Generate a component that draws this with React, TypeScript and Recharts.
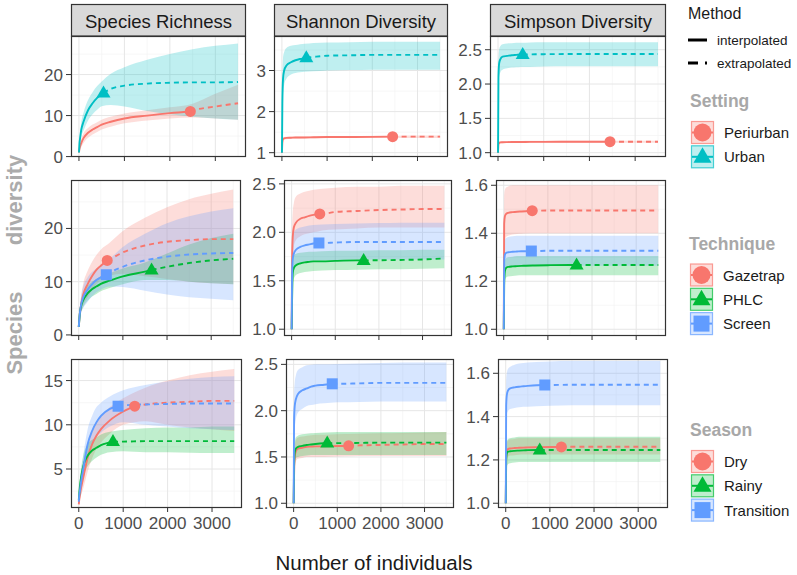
import React from "react";
import { ComposedChart, Area, Line, Scatter, XAxis, YAxis, CartesianGrid } from "recharts";

const FONT = "'Liberation Sans', Arial, Helvetica, sans-serif";
const RED = "#F8766D";
const TEAL = "#00BFC4";
const GREEN = "#00BA38";
const BLUE = "#619CFF";

// sample sizes (number of individuals) shared by every curve
const X = [1, 10, 25, 50, 100, 200, 300, 400, 500, 700, 1000, 1500, 2000, 2500, 3000, 3500];
const X_TICKS = [0, 1000, 2000, 3000];
const X_MINOR = [500, 1500, 2500, 3500];
const X_DOMAIN = [-175, 3675];

const STRIPS = ["Species Richness", "Shannon Diversity", "Simpson Diversity"];
const SETTINGS = ["Periurban", "Urban"];
const TECHNIQUES = ["Gazetrap", "PHLC", "Screen"];
const SEASONS = ["Dry", "Rainy", "Transition"];
const METHODS = ["interpolated", "extrapolated"];

// reference sample sizes (observed)
const SETTING_N = [2450, 540];
const TECHNIQUE_N = [645, 1650, 625];
const SEASON_N = [1260, 770, 885];

// ---- Setting ----
const rich_peri_est = [1, 1.8, 2.5, 3.3, 4.5, 5.8, 6.6, 7.2, 7.8, 8.5, 9.3, 10.0, 10.6, 11.2, 12.2, 13.0];
const rich_peri_lo = [1, 1.3, 1.8, 2.3, 3.3, 4.6, 5.4, 6.0, 6.6, 7.3, 8.1, 8.8, 9.3, 9.5, 9.3, 9.0];
const rich_peri_hi = [1, 2.3, 3.3, 4.3, 5.7, 7.0, 7.8, 8.4, 9.0, 9.7, 10.5, 11.3, 12.0, 12.9, 15.3, 17.5];
const rich_urban_est = [1, 3, 4.5, 6.5, 8.5, 11.3, 13.0, 14.3, 15.2, 16.5, 17.3, 17.8, 18.0, 18.1, 18.1, 18.2];
const rich_urban_lo = [1, 2.2, 3.3, 4.8, 6.3, 8.8, 10.3, 11.4, 12.3, 12.6, 12.2, 11.1, 10.3, 9.7, 9.3, 9.0];
const rich_urban_hi = [1, 3.8, 5.7, 8.2, 10.7, 13.8, 15.7, 17.2, 18.3, 20.2, 21.8, 23.6, 25.0, 26.2, 27.0, 27.6];
const RICH_SETTING_REF = [11.0, 15.5];

const shan_peri_est = [1, 1.25, 1.33, 1.35, 1.36, 1.365, 1.37, 1.37, 1.37, 1.375, 1.38, 1.38, 1.385, 1.39, 1.39, 1.39];
const shan_peri_lo = [1, 1.22, 1.3, 1.32, 1.33, 1.34, 1.345, 1.345, 1.35, 1.35, 1.355, 1.355, 1.36, 1.36, 1.36, 1.36];
const shan_peri_hi = [1, 1.28, 1.36, 1.38, 1.39, 1.39, 1.395, 1.395, 1.395, 1.4, 1.405, 1.405, 1.41, 1.415, 1.42, 1.42];
const shan_urban_est = [1, 2.2, 2.8, 3.0, 3.12, 3.2, 3.25, 3.28, 3.3, 3.33, 3.36, 3.37, 3.38, 3.38, 3.38, 3.38];
const shan_urban_lo = [1, 1.9, 2.4, 2.65, 2.8, 2.9, 2.94, 2.96, 2.97, 2.98, 3.0, 3.01, 3.02, 3.02, 3.02, 3.02];
const shan_urban_hi = [1, 2.6, 3.3, 3.45, 3.55, 3.6, 3.62, 3.64, 3.65, 3.67, 3.68, 3.69, 3.7, 3.7, 3.7, 3.7];
const SHAN_SETTING_REF = [1.39, 3.31];

const simp_peri_est = [1, 1.12, 1.14, 1.15, 1.152, 1.154, 1.155, 1.155, 1.156, 1.157, 1.158, 1.159, 1.16, 1.16, 1.16, 1.16];
const simp_peri_lo = [1, 1.1, 1.125, 1.135, 1.138, 1.14, 1.14, 1.14, 1.141, 1.142, 1.143, 1.144, 1.145, 1.145, 1.145, 1.145];
const simp_peri_hi = [1, 1.14, 1.155, 1.165, 1.166, 1.168, 1.17, 1.17, 1.171, 1.172, 1.173, 1.174, 1.175, 1.175, 1.175, 1.175];
const simp_urban_est = [1, 2.1, 2.3, 2.36, 2.4, 2.41, 2.42, 2.425, 2.43, 2.432, 2.435, 2.437, 2.438, 2.438, 2.438, 2.438];
const simp_urban_lo = [1, 1.9, 2.1, 2.17, 2.21, 2.23, 2.24, 2.245, 2.25, 2.25, 2.255, 2.26, 2.26, 2.26, 2.26, 2.26];
const simp_urban_hi = [1, 2.3, 2.5, 2.55, 2.58, 2.59, 2.595, 2.6, 2.6, 2.605, 2.61, 2.61, 2.61, 2.61, 2.61, 2.61];
const SIMP_SETTING_REF = [1.16, 2.43];

// ---- Technique ----
const rich_gaze_est = [1.5, 2.5, 4, 5.5, 7.5, 9.5, 11, 12.2, 13, 14.2, 15.5, 16.8, 17.5, 17.8, 18, 18];
const rich_gaze_lo = [1.5, 2, 3, 4, 5.5, 7, 8.3, 9.5, 10.3, 11.1, 11.5, 11, 10.5, 10, 9.7, 9.5];
const rich_gaze_hi = [1.5, 3, 5, 7, 9.5, 12, 13.7, 15, 16, 17.3, 19.5, 22, 24, 25.5, 26.5, 27.3];
const rich_phlc_est = [1.5, 2.5, 4, 5.3, 6.5, 7.8, 8.6, 9.1, 9.6, 10.2, 11, 11.9, 12.8, 13.5, 14, 14.3];
const rich_phlc_lo = [1.5, 2.1, 3.3, 4.3, 5.2, 6.4, 7.2, 7.7, 8.2, 8.8, 9.5, 10.3, 10.3, 10, 9.7, 9.5];
const rich_phlc_hi = [1.5, 2.9, 4.7, 6.3, 7.8, 9.2, 10, 10.5, 11, 11.6, 12.5, 13.6, 15.3, 17, 18.2, 19];
const rich_screen_est = [1.5, 2.6, 4, 5.5, 7, 8.5, 9.5, 10.3, 10.8, 11.7, 12.8, 14, 14.7, 15.1, 15.3, 15.4];
const rich_screen_lo = [1.5, 2.1, 3, 4, 5, 6.2, 7.2, 8, 8.5, 9.1, 9, 8.3, 7.6, 7.1, 6.8, 6.5];
const rich_screen_hi = [1.5, 3.1, 5, 7, 9, 10.8, 11.8, 12.5, 13.1, 14.3, 16.5, 19, 21, 22.3, 23.2, 23.8];
const RICH_TECH_REF = [14.0, 12.2, 11.3];

const shan_gaze_est = [1, 1.7, 1.95, 2.05, 2.1, 2.14, 2.155, 2.17, 2.18, 2.19, 2.21, 2.22, 2.23, 2.235, 2.24, 2.24];
const shan_gaze_lo = [1, 1.45, 1.7, 1.85, 1.92, 1.96, 1.98, 1.99, 2.0, 2.02, 2.03, 2.04, 2.05, 2.05, 2.05, 2.05];
const shan_gaze_hi = [1, 1.95, 2.2, 2.3, 2.37, 2.4, 2.42, 2.43, 2.44, 2.45, 2.46, 2.47, 2.47, 2.48, 2.48, 2.48];
const shan_phlc_est = [1, 1.3, 1.58, 1.63, 1.66, 1.68, 1.69, 1.695, 1.7, 1.7, 1.705, 1.71, 1.712, 1.715, 1.72, 1.73];
const shan_phlc_lo = [1, 1.2, 1.45, 1.52, 1.56, 1.58, 1.59, 1.595, 1.6, 1.605, 1.61, 1.615, 1.62, 1.62, 1.625, 1.63];
const shan_phlc_hi = [1, 1.45, 1.72, 1.76, 1.78, 1.79, 1.795, 1.8, 1.8, 1.805, 1.81, 1.81, 1.815, 1.815, 1.82, 1.82];
const shan_screen_est = [1, 1.55, 1.72, 1.78, 1.82, 1.85, 1.865, 1.875, 1.885, 1.89, 1.895, 1.9, 1.9, 1.9, 1.9, 1.9];
const shan_screen_lo = [1, 1.3, 1.5, 1.6, 1.65, 1.68, 1.7, 1.705, 1.71, 1.71, 1.715, 1.72, 1.72, 1.72, 1.72, 1.72];
const shan_screen_hi = [1, 1.8, 1.95, 2.0, 2.03, 2.05, 2.06, 2.07, 2.075, 2.08, 2.085, 2.09, 2.095, 2.1, 2.1, 2.1];
const SHAN_TECH_REF = [2.19, 1.71, 1.89];

const simp_gaze_est = [1, 1.44, 1.47, 1.48, 1.485, 1.488, 1.49, 1.491, 1.492, 1.494, 1.495, 1.495, 1.495, 1.495, 1.495, 1.495];
const simp_gaze_lo = [1, 1.33, 1.37, 1.385, 1.39, 1.395, 1.397, 1.398, 1.399, 1.4, 1.4, 1.4, 1.4, 1.4, 1.4, 1.4];
const simp_gaze_hi = [1, 1.55, 1.58, 1.59, 1.595, 1.6, 1.6, 1.6, 1.6, 1.6, 1.6, 1.6, 1.6, 1.6, 1.6, 1.6];
const simp_phlc_est = [1, 1.18, 1.24, 1.255, 1.26, 1.262, 1.263, 1.264, 1.265, 1.266, 1.267, 1.268, 1.268, 1.268, 1.268, 1.268];
const simp_phlc_lo = [1, 1.13, 1.2, 1.215, 1.22, 1.222, 1.224, 1.225, 1.225, 1.225, 1.225, 1.225, 1.225, 1.225, 1.225, 1.225];
const simp_phlc_hi = [1, 1.23, 1.285, 1.295, 1.3, 1.302, 1.305, 1.305, 1.305, 1.305, 1.305, 1.305, 1.305, 1.305, 1.305, 1.305];
const simp_screen_est = [1, 1.28, 1.31, 1.318, 1.321, 1.323, 1.324, 1.325, 1.325, 1.326, 1.327, 1.327, 1.327, 1.327, 1.327, 1.327];
const simp_screen_lo = [1, 1.22, 1.245, 1.255, 1.26, 1.262, 1.264, 1.265, 1.265, 1.265, 1.265, 1.265, 1.265, 1.265, 1.265, 1.265];
const simp_screen_hi = [1, 1.34, 1.37, 1.38, 1.385, 1.388, 1.39, 1.39, 1.39, 1.39, 1.39, 1.39, 1.39, 1.39, 1.39, 1.39];
const SIMP_TECH_REF = [1.494, 1.268, 1.326];

// ---- Season ----
const rich_dry_est = [1, 1.5, 2, 2.8, 4, 6.3, 7.8, 8.8, 9.5, 10.5, 11.5, 12.3, 12.5, 12.6, 12.7, 12.7];
const rich_dry_lo = [1, 1.2, 1.5, 2, 2.8, 4.7, 6.2, 7.3, 8, 9, 10, 10.4, 10, 9.7, 9.5, 9.3];
const rich_dry_hi = [1, 1.8, 2.6, 3.8, 5.5, 8, 9.5, 10.4, 11, 12, 13, 14.2, 15, 15.6, 16, 16.3];
const rich_rainy_est = [1.5, 2.2, 3, 4, 5.3, 6.5, 7.1, 7.4, 7.7, 8.0, 8.1, 8.15, 8.15, 8.15, 8.15, 8.15];
const rich_rainy_lo = [1.5, 1.8, 2.4, 3, 4.2, 5.3, 5.9, 6.3, 6.6, 6.9, 7, 6.9, 6.9, 6.85, 6.8, 6.8];
const rich_rainy_hi = [1.5, 2.6, 3.8, 5, 6.5, 7.8, 8.3, 8.6, 8.9, 9.2, 9.4, 9.6, 9.7, 9.7, 9.8, 9.8];
const rich_trans_est = [1.3, 2, 2.5, 3.5, 5, 7.8, 9.3, 10.3, 11, 11.8, 12.2, 12.3, 12.35, 12.4, 12.4, 12.4];
const rich_trans_lo = [1.3, 1.6, 2, 2.5, 3.7, 6, 7.5, 8.6, 9.1, 9.8, 10.3, 10, 9.8, 9.6, 9.5, 9.4];
const rich_trans_hi = [1.3, 2.4, 3.2, 4.5, 6.5, 9.5, 11, 12, 12.5, 13.2, 13.9, 14.5, 14.9, 15.2, 15.4, 15.5];
const RICH_SEASON_REF = [12.1, 8.1, 12.1];

const shan_dry_est = [1, 1.3, 1.5, 1.56, 1.59, 1.6, 1.61, 1.612, 1.614, 1.615, 1.618, 1.625, 1.63, 1.635, 1.64, 1.64];
const shan_dry_lo = [1, 1.2, 1.38, 1.45, 1.48, 1.49, 1.5, 1.5, 1.5, 1.5, 1.505, 1.51, 1.51, 1.51, 1.51, 1.51];
const shan_dry_hi = [1, 1.4, 1.62, 1.68, 1.71, 1.72, 1.73, 1.735, 1.74, 1.74, 1.745, 1.75, 1.755, 1.76, 1.765, 1.77];
const shan_rainy_est = [1, 1.4, 1.55, 1.59, 1.61, 1.62, 1.63, 1.635, 1.64, 1.648, 1.65, 1.652, 1.655, 1.655, 1.655, 1.655];
const shan_rainy_lo = [1, 1.3, 1.45, 1.49, 1.5, 1.51, 1.515, 1.52, 1.52, 1.52, 1.52, 1.52, 1.52, 1.52, 1.52, 1.52];
const shan_rainy_hi = [1, 1.5, 1.66, 1.71, 1.73, 1.745, 1.75, 1.755, 1.76, 1.765, 1.77, 1.77, 1.77, 1.77, 1.77, 1.77];
const shan_trans_est = [1, 1.9, 2.05, 2.12, 2.18, 2.22, 2.24, 2.26, 2.27, 2.28, 2.29, 2.295, 2.3, 2.3, 2.3, 2.3];
const shan_trans_lo = [1, 1.6, 1.8, 1.9, 1.98, 2.02, 2.05, 2.06, 2.07, 2.08, 2.09, 2.095, 2.1, 2.1, 2.1, 2.1];
const shan_trans_hi = [1, 2.15, 2.3, 2.38, 2.44, 2.47, 2.49, 2.495, 2.5, 2.5, 2.505, 2.51, 2.515, 2.52, 2.52, 2.52];
const SHAN_SEASON_REF = [1.62, 1.65, 2.29];

const simp_dry_est = [1, 1.2, 1.24, 1.25, 1.253, 1.255, 1.256, 1.257, 1.258, 1.259, 1.26, 1.261, 1.261, 1.261, 1.261, 1.261];
const simp_dry_lo = [1, 1.16, 1.2, 1.215, 1.22, 1.222, 1.224, 1.225, 1.225, 1.225, 1.225, 1.225, 1.225, 1.225, 1.225, 1.225];
const simp_dry_hi = [1, 1.24, 1.28, 1.29, 1.295, 1.297, 1.3, 1.3, 1.3, 1.3, 1.3, 1.3, 1.3, 1.3, 1.3, 1.3];
const simp_rainy_est = [1, 1.2, 1.23, 1.238, 1.24, 1.242, 1.243, 1.244, 1.245, 1.246, 1.246, 1.246, 1.246, 1.246, 1.246, 1.246];
const simp_rainy_lo = [1, 1.14, 1.17, 1.18, 1.185, 1.188, 1.19, 1.19, 1.19, 1.19, 1.19, 1.19, 1.19, 1.19, 1.19, 1.19];
const simp_rainy_hi = [1, 1.26, 1.285, 1.295, 1.3, 1.303, 1.307, 1.307, 1.307, 1.307, 1.307, 1.307, 1.307, 1.307, 1.307, 1.307];
const simp_trans_est = [1, 1.45, 1.5, 1.52, 1.53, 1.535, 1.538, 1.54, 1.542, 1.545, 1.546, 1.547, 1.547, 1.547, 1.547, 1.547];
const simp_trans_lo = [1, 1.36, 1.41, 1.425, 1.435, 1.44, 1.443, 1.445, 1.446, 1.448, 1.45, 1.452, 1.452, 1.452, 1.452, 1.452];
const simp_trans_hi = [1, 1.55, 1.6, 1.62, 1.63, 1.64, 1.645, 1.648, 1.65, 1.652, 1.655, 1.657, 1.657, 1.657, 1.657, 1.657];
const SIMP_SEASON_REF = [1.26, 1.246, 1.546];

type Series = { color: string; shape: string; n: number; v: number; est: number[]; lo: number[]; hi: number[] };

const mk = (color: string, shape: string, n: number, v: number, est: number[], lo: number[], hi: number[]): Series =>
  ({ color, shape, n, v, est, lo, hi });

const GROUP_STYLE = {
  setting: [[RED, "circle"], [TEAL, "triangle"]],
  technique: [[RED, "circle"], [GREEN, "triangle"], [BLUE, "square"]],
  season: [[RED, "circle"], [GREEN, "triangle"], [BLUE, "square"]],
};

const ROW_Y = [[36, 157], [180, 336], [359, 508]];
const COL_X = [
  [[71, 246], [274, 448], [490, 666]],
  [[71, 241], [284, 452], [496, 666]],
  [[71, 242], [286, 454], [498, 668]],
];
const YW = 44;
const PAD = 12;

const PANELS = [
  // row 1: Setting
  { r: 0, c: 0, dom: [-0.1, 29.4], ticks: [0, 10, 20], minor: [5, 15, 25], dec: 0,
    series: [mk(RED, "circle", SETTING_N[0], RICH_SETTING_REF[0], rich_peri_est, rich_peri_lo, rich_peri_hi),
             mk(TEAL, "triangle", SETTING_N[1], RICH_SETTING_REF[1], rich_urban_est, rich_urban_lo, rich_urban_hi)] },
  { r: 0, c: 1, dom: [0.895, 3.84], ticks: [1, 2, 3], minor: [1.5, 2.5, 3.5], dec: 0,
    series: [mk(RED, "circle", SETTING_N[0], SHAN_SETTING_REF[0], shan_peri_est, shan_peri_lo, shan_peri_hi),
             mk(TEAL, "triangle", SETTING_N[1], SHAN_SETTING_REF[1], shan_urban_est, shan_urban_lo, shan_urban_hi)] },
  { r: 0, c: 2, dom: [0.937, 2.7], ticks: [1, 1.5, 2, 2.5], minor: [1.25, 1.75, 2.25], dec: 1,
    series: [mk(RED, "circle", SETTING_N[0], SIMP_SETTING_REF[0], simp_peri_est, simp_peri_lo, simp_peri_hi),
             mk(TEAL, "triangle", SETTING_N[1], SIMP_SETTING_REF[1], simp_urban_est, simp_urban_lo, simp_urban_hi)] },
  // row 2: Technique
  { r: 1, c: 0, dom: [-0.2, 29.1], ticks: [0, 10, 20], minor: [5, 15, 25], dec: 0,
    series: [mk(RED, "circle", TECHNIQUE_N[0], RICH_TECH_REF[0], rich_gaze_est, rich_gaze_lo, rich_gaze_hi),
             mk(GREEN, "triangle", TECHNIQUE_N[1], RICH_TECH_REF[1], rich_phlc_est, rich_phlc_lo, rich_phlc_hi),
             mk(BLUE, "square", TECHNIQUE_N[2], RICH_TECH_REF[2], rich_screen_est, rich_screen_lo, rich_screen_hi)] },
  { r: 1, c: 1, dom: [0.93, 2.54], ticks: [1, 1.5, 2, 2.5], minor: [1.25, 1.75, 2.25], dec: 1,
    series: [mk(RED, "circle", TECHNIQUE_N[0], SHAN_TECH_REF[0], shan_gaze_est, shan_gaze_lo, shan_gaze_hi),
             mk(GREEN, "triangle", TECHNIQUE_N[1], SHAN_TECH_REF[1], shan_phlc_est, shan_phlc_lo, shan_phlc_hi),
             mk(BLUE, "square", TECHNIQUE_N[2], SHAN_TECH_REF[2], shan_screen_est, shan_screen_lo, shan_screen_hi)] },
  { r: 1, c: 2, dom: [0.972, 1.622], ticks: [1, 1.2, 1.4, 1.6], minor: [1.1, 1.3, 1.5], dec: 1,
    series: [mk(RED, "circle", TECHNIQUE_N[0], SIMP_TECH_REF[0], simp_gaze_est, simp_gaze_lo, simp_gaze_hi),
             mk(GREEN, "triangle", TECHNIQUE_N[1], SIMP_TECH_REF[1], simp_phlc_est, simp_phlc_lo, simp_phlc_hi),
             mk(BLUE, "square", TECHNIQUE_N[2], SIMP_TECH_REF[2], simp_screen_est, simp_screen_lo, simp_screen_hi)] },
  // row 3: Season
  { r: 2, c: 0, dom: [0.59, 17.44], ticks: [5, 10, 15], minor: [2.5, 7.5, 12.5], dec: 0,
    series: [mk(RED, "circle", SEASON_N[0], RICH_SEASON_REF[0], rich_dry_est, rich_dry_lo, rich_dry_hi),
             mk(GREEN, "triangle", SEASON_N[1], RICH_SEASON_REF[1], rich_rainy_est, rich_rainy_lo, rich_rainy_hi),
             mk(BLUE, "square", SEASON_N[2], RICH_SEASON_REF[2], rich_trans_est, rich_trans_lo, rich_trans_hi)] },
  { r: 2, c: 1, dom: [0.949, 2.558], ticks: [1, 1.5, 2, 2.5], minor: [1.25, 1.75, 2.25], dec: 1,
    series: [mk(RED, "circle", SEASON_N[0], SHAN_SEASON_REF[0], shan_dry_est, shan_dry_lo, shan_dry_hi),
             mk(GREEN, "triangle", SEASON_N[1], SHAN_SEASON_REF[1], shan_rainy_est, shan_rainy_lo, shan_rainy_hi),
             mk(BLUE, "square", SEASON_N[2], SHAN_SEASON_REF[2], shan_trans_est, shan_trans_lo, shan_trans_hi)] },
  { r: 2, c: 2, dom: [0.978, 1.666], ticks: [1, 1.2, 1.4, 1.6], minor: [1.1, 1.3, 1.5], dec: 1,
    series: [mk(RED, "circle", SEASON_N[0], SIMP_SEASON_REF[0], simp_dry_est, simp_dry_lo, simp_dry_hi),
             mk(GREEN, "triangle", SEASON_N[1], SIMP_SEASON_REF[1], simp_rainy_est, simp_rainy_lo, simp_rainy_hi),
             mk(BLUE, "square", SEASON_N[2], SIMP_SEASON_REF[2], simp_trans_est, simp_trans_lo, simp_trans_hi)] },
];

function buildRows(series: Series[]) {
  const xs = Array.from(new Set([...X, ...series.map(s => s.n)])).sort((a, b) => a - b);
  return xs.map(x => {
    const row: any = { x };
    const gi = X.indexOf(x);
    series.forEach((s, k) => {
      const val = x === s.n ? s.v : gi >= 0 ? s.est[gi] : null;
      row[`i${k}`] = val != null && x <= s.n ? val : null;
      row[`e${k}`] = val != null && x >= s.n ? val : null;
      row[`b${k}`] = gi >= 0 ? [s.lo[gi], s.hi[gi]] : null;
    });
    return row;
  });
}

function markerShape(kind: string, color: string) {
  return (p: any) => {
    const { cx, cy } = p;
    if (kind === "circle") return <circle cx={cx} cy={cy} r={5.5} fill={color} />;
    if (kind === "triangle")
      return <polygon points={`${cx},${cy - 7.5} ${cx - 7},${cy + 4.5} ${cx + 7},${cy + 4.5}`} fill={color} />;
    return <rect x={cx - 5.5} y={cy - 5.5} width={11} height={11} fill={color} />;
  };
}

const tickStyle = { fontSize: 17, fill: "#4d4d4d", fontFamily: FONT };

function Panel({ p }: { p: any }) {
  const [x0, x1] = COL_X[p.r][p.c];
  const [y0, y1] = ROW_Y[p.r];
  const showX = p.r === 2;
  const xh = showX ? 30 : 6;
  const rows = buildRows(p.series);
  return (
    <div style={{ position: "absolute", left: x0 - YW, top: y0 - PAD }}>
      <ComposedChart width={YW + x1 - x0} height={y1 - y0 + xh + 2 * PAD} data={rows}
        margin={{ top: PAD, right: 0, bottom: PAD, left: 0 }}>
        <CartesianGrid horizontalValues={p.minor} verticalValues={X_MINOR} stroke="#f3f3f3" strokeWidth={0.7} fill="#ffffff" />
        <CartesianGrid horizontalValues={p.ticks} verticalValues={X_TICKS} stroke="#e6e6e6" strokeWidth={1} />
        <XAxis dataKey="x" type="number" domain={X_DOMAIN} ticks={X_TICKS} allowDataOverflow interval={0}
          axisLine={false} tickSize={4} tickLine={{ stroke: "#333" }} height={xh} tickMargin={5}
          tick={tickStyle} tickFormatter={(v: number) => (showX ? String(v) : "")} />
        <YAxis type="number" domain={p.dom} ticks={p.ticks} allowDataOverflow interval={0} width={YW}
          axisLine={false} tickSize={5} tickLine={{ stroke: "#333" }} tickMargin={3} tick={tickStyle}
          tickFormatter={(v: number) => v.toFixed(p.dec)} />
        {p.series.map((s: Series, k: number) => (
          <Area key={`b${k}`} dataKey={`b${k}`} type="monotone" fill={s.color} fillOpacity={0.25}
            stroke="none" connectNulls dot={false} activeDot={false} isAnimationActive={false} />
        ))}
        {p.series.map((s: Series, k: number) => (
          <Line key={`i${k}`} dataKey={`i${k}`} type="monotone" stroke={s.color} strokeWidth={1.9}
            connectNulls dot={false} activeDot={false} isAnimationActive={false} />
        ))}
        {p.series.map((s: Series, k: number) => (
          <Line key={`e${k}`} dataKey={`e${k}`} type="monotone" stroke={s.color} strokeWidth={1.9}
            strokeDasharray="5 4" connectNulls dot={false} activeDot={false} isAnimationActive={false} />
        ))}
        {p.series.map((s: Series, k: number) => (
          <Scatter key={`m${k}`} data={[{ x: s.n, y: s.v }]} dataKey="y" fill={s.color}
            shape={markerShape(s.shape, s.color)} isAnimationActive={false} />
        ))}
      </ComposedChart>
    </div>
  );
}

function KeyGlyph({ x, y, color, shape }: { x: number; y: number; color: string; shape: string }) {
  const cx = x + 11.5, cy = y + 11.5;
  const id = `clip${Math.round(x)}_${Math.round(y)}`;
  return (
    <g>
      <clipPath id={id}><rect x={x + 1} y={y + 1} width={21} height={21} /></clipPath>
      <rect x={x + 0.5} y={y + 0.5} width={22} height={22} fill={color} fillOpacity={0.25} stroke={color} strokeOpacity={0.7} strokeWidth={1.2} />
      <line x1={x + 1} x2={x + 22} y1={cy} y2={cy} stroke={color} strokeWidth={2} />
      <g clipPath={`url(#${id})`}>
        {shape === "circle" && <circle cx={cx} cy={cy} r={9} fill={color} />}
        {shape === "triangle" && <polygon points={`${cx},${cy - 9.5} ${cx - 9},${cy + 6} ${cx + 9},${cy + 6}`} fill={color} />}
        {shape === "square" && <rect x={cx - 8} y={cy - 8} width={16} height={16} fill={color} />}
      </g>
    </g>
  );
}

function Legend({ title, labels, style, x, titleY, keyY }: any) {
  return (
    <g>
      <text x={x} y={titleY} fontSize={17.5} fontWeight="bold" fill="#a8a8a8" fontFamily={FONT}>{title}</text>
      {labels.map((lab: string, i: number) => (
        <g key={lab}>
          <KeyGlyph x={x + 1} y={keyY + i * 24.3} color={style[i][0]} shape={style[i][1]} />
          <text x={x + 34} y={keyY + i * 24.3 + 17} fontSize={15} fill="#1a1a1a" fontFamily={FONT}>{lab}</text>
        </g>
      ))}
    </g>
  );
}

function Overlay() {
  return (
    <svg width={797} height={575} style={{ position: "absolute", left: 0, top: 0, pointerEvents: "none" }}>
      {PANELS.map((p, i) => {
        const [x0, x1] = COL_X[p.r][p.c];
        const [y0, y1] = ROW_Y[p.r];
        return <rect key={i} x={x0 + 0.5} y={y0 + 0.5} width={x1 - x0 - 1} height={y1 - y0 - 1} fill="none" stroke="#333" strokeWidth={1.2} />;
      })}
      {STRIPS.map((t, c) => {
        const [x0, x1] = COL_X[0][c];
        return (
          <g key={t}>
            <rect x={x0 + 0.5} y={4.5} width={x1 - x0 - 1} height={31.5} fill="#d9d9d9" stroke="#333" strokeWidth={1.2} />
            <text x={(x0 + x1) / 2} y={27.5} textAnchor="middle" fontSize={18.5} fill="#1a1a1a" fontFamily={FONT}>{t}</text>
          </g>
        );
      })}
      <text x={374} y={570} textAnchor="middle" fontSize={20.5} fill="#1a1a1a" fontFamily={FONT}>Number of individuals</text>
      <text transform="translate(21.5,333) rotate(-90)" textAnchor="middle" fontSize={22} fontWeight="bold" fill="#ababab" fontFamily={FONT}>Species</text>
      <text transform="translate(21.5,200) rotate(-90)" textAnchor="middle" fontSize={22} fontWeight="bold" fill="#ababab" fontFamily={FONT}>diversity</text>

      <text x={688} y={19} fontSize={16} fill="#1a1a1a" fontFamily={FONT}>Method</text>
      <line x1={688} x2={707} y1={40} y2={40} stroke="#000" strokeWidth={3} />
      <line x1={688} x2={707} y1={63} y2={63} stroke="#000" strokeWidth={3} strokeDasharray="10 7" />
      <text x={717} y={45} fontSize={13.5} fill="#1a1a1a" fontFamily={FONT}>{METHODS[0]}</text>
      <text x={717} y={68} fontSize={13.5} fill="#1a1a1a" fontFamily={FONT}>{METHODS[1]}</text>

      <Legend title="Setting" labels={SETTINGS} style={GROUP_STYLE.setting} x={690} titleY={106.5} keyY={121} />
      <Legend title="Technique" labels={TECHNIQUES} style={GROUP_STYLE.technique} x={689} titleY={250} keyY={263.5} />
      <Legend title="Season" labels={SEASONS} style={GROUP_STYLE.season} x={690} titleY={436} keyY={450} />
    </svg>
  );
}

export default function App() {
  return (
    <div style={{ position: "absolute", left: 0, top: 0, width: 797, height: 575, background: "#fff", fontFamily: FONT }}>
      {PANELS.map((p, i) => <Panel key={i} p={p} />)}
      <Overlay />
    </div>
  );
}
